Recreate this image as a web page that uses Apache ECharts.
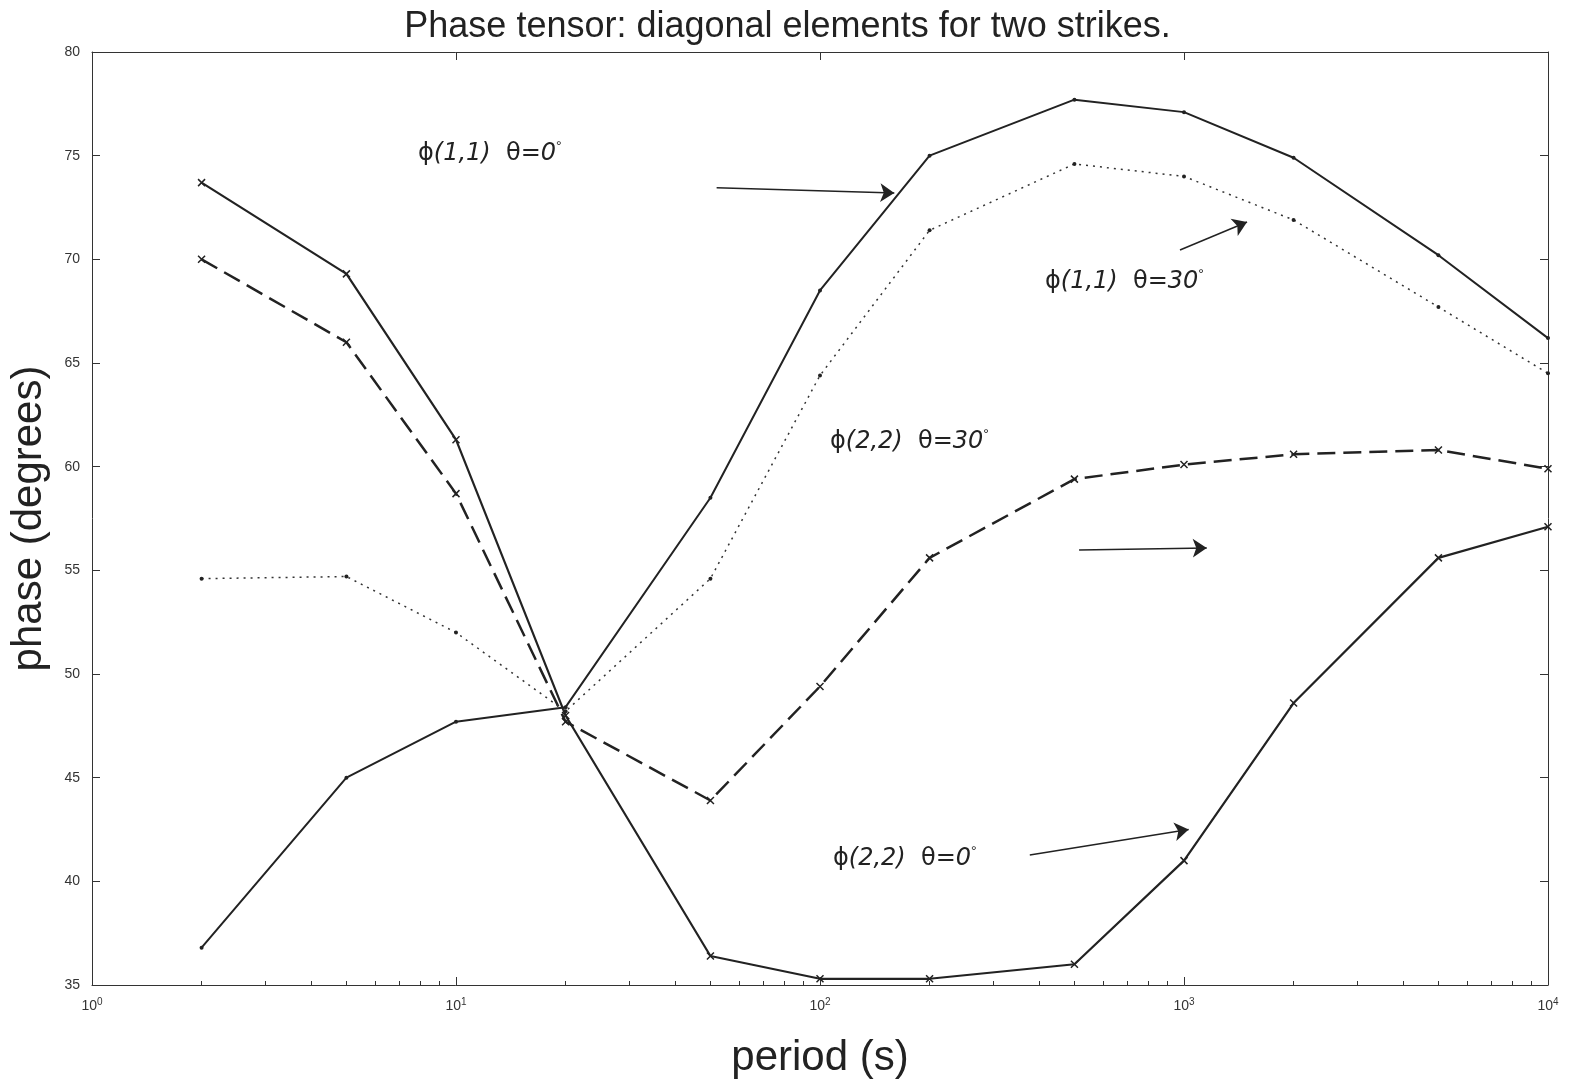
<!DOCTYPE html>
<html><head><meta charset="utf-8">
<script src="https://cdn.jsdelivr.net/npm/echarts@6/dist/echarts.min.js"></script>
<style>html,body{margin:0;background:#fff}#c{width:1575px;height:1086px}</style>
</head><body><div id="c"></div>
<script>
var periods = [2, 5, 10, 20, 50, 100, 200, 500, 1000, 2000, 5000, 10000];
var phi22_t0  = [73.7, 69.3, 61.3, 48.0, 36.4, 35.3, 35.3, 36.0, 41.0, 48.6, 55.6, 57.1];
var phi22_t30 = [70.0, 66.0, 58.7, 47.7, 43.9, 49.4, 55.6, 59.4, 60.1, 60.6, 60.8, 59.9];
var phi11_t30 = [54.6, 54.7, 52.0, 48.2, 54.6, 64.4, 71.4, 74.6, 74.0, 71.9, 67.7, 64.5];
var phi11_t0  = [36.8, 45.0, 47.7, 48.4, 58.5, 68.5, 75.0, 77.7, 77.1, 74.9, 70.2, 66.2];
// arrows in data coords [period, phase]
var arrows = [
  [[52, 73.45], [160, 73.2]],
  [[975, 70.45], [1490, 71.8]],
  [[515, 55.98], [1155, 56.08]],
  [[377, 41.27], [1030, 42.5]]
];

var xMark = 'path://M0,0L10,10M10,0L0,10';
function pairs(v) { return periods.map(function (p, i) { return [p, v[i]]; }); }
function sup(v) {
  var e = Math.round(Math.log10(v));
  return '10{s|' + e + '}';
}
var tickRich = { s: { fontSize: 10, verticalAlign: 'top', padding: [0, 0, 8, 0], color: '#333' } };

var myChart = echarts.init(document.getElementById('c'));
function ann(x, y, a, b) {
  return { type: 'text', left: x, top: y, style: {
    text: '{n|ϕ}{i|' + a + '}{n|  θ}{i|=' + b + '}{s|°}',
    rich: { n: { fontSize: 24, fontFamily: 'DejaVu Sans' },
            i: { fontSize: 24, fontStyle: 'italic', fontFamily: 'DejaVu Sans' },
            s: { fontSize: 14, verticalAlign: 'top', padding: [0, 0, 14, 0] } }, fill: '#222' } };
}

var option = {
  backgroundColor: '#fff',
  animation: false,
  title: { text: 'Phase tensor: diagonal elements for two strikes.', left: 'center', top: 4,
    textStyle: { fontFamily: 'Liberation Sans', fontWeight: 'normal', fontSize: 36, color: '#222' } },
  grid: { left: 85, right: 27, top: 52, bottom: 101 },
  xAxis: [{
    type: 'log', min: 1, max: 10000, logBase: 10,
    name: 'period (s)', nameLocation: 'middle', nameGap: 52,
    nameTextStyle: { fontFamily: 'Liberation Sans', fontSize: 42, color: '#222' },
    axisLine: { lineStyle: { color: '#333' } },
    axisTick: { inside: true, length: 8, lineStyle: { color: '#333' } },
    minorTick: { show: true, splitNumber: 9, length: 4, lineStyle: { color: '#333' } },
    splitLine: { show: false },
    axisLabel: { formatter: sup, rich: tickRich, color: '#333', fontSize: 14, margin: 12 }
  }, {
    type: 'log', min: 1, max: 10000, position: 'top',
    axisLine: { lineStyle: { color: '#333' } },
    axisTick: { inside: true, length: 8, lineStyle: { color: '#333' } },
    axisLabel: { show: false }, splitLine: { show: false }
  }],
  yAxis: [{
    type: 'value', min: 35, max: 80, interval: 5,
    name: 'phase (degrees)', nameLocation: 'middle', nameGap: 42,
    nameTextStyle: { fontFamily: 'Liberation Sans', fontSize: 42, color: '#222' },
    axisLine: { show: true, lineStyle: { color: '#333' } },
    axisTick: { inside: true, length: 8, lineStyle: { color: '#333' } },
    splitLine: { show: false },
    axisLabel: { color: '#333', fontSize: 14, margin: 12 }
  }, {
    type: 'value', min: 35, max: 80, interval: 5, position: 'right',
    axisLine: { show: true, lineStyle: { color: '#333' } },
    axisTick: { inside: true, length: 8, lineStyle: { color: '#333' } },
    axisLabel: { show: false }, splitLine: { show: false }
  }],
  series: [
    { type: 'line', data: pairs(phi22_t0), symbol: xMark, symbolSize: 7,
      lineStyle: { color: '#222', width: 2.2 }, itemStyle: { color: 'transparent', borderColor: '#222', borderWidth: 1.5 } },
    { type: 'line', data: pairs(phi22_t30), symbol: xMark, symbolSize: 7,
      lineStyle: { color: '#222', width: 2.5, type: [18, 8] }, itemStyle: { color: 'transparent', borderColor: '#222', borderWidth: 1.5 } },
    { type: 'line', data: pairs(phi11_t30), symbol: 'circle', symbolSize: 4,
      lineStyle: { color: '#333', width: 1.5, type: [2, 5] }, itemStyle: { color: '#222' } },
    { type: 'line', data: pairs(phi11_t0), symbol: 'circle', symbolSize: 4,
      lineStyle: { color: '#222', width: 2 }, itemStyle: { color: '#222' },
      markLine: { silent: true, symbol: ['none', 'arrow'], symbolSize: 14, label: { show: false },
        lineStyle: { color: '#222', width: 1.5, type: 'solid' },
        data: arrows.map(function (a) { return [{ coord: a[0] }, { coord: a[1] }]; }) } }
  ],
  graphic: [
    ann(418, 140, '(1,1)', '0'),
    ann(1045, 268, '(1,1)', '30'),
    ann(830, 428, '(2,2)', '30'),
    ann(833, 845, '(2,2)', '0')
  ]
};
myChart.setOption(option);
</script>
</body></html>
